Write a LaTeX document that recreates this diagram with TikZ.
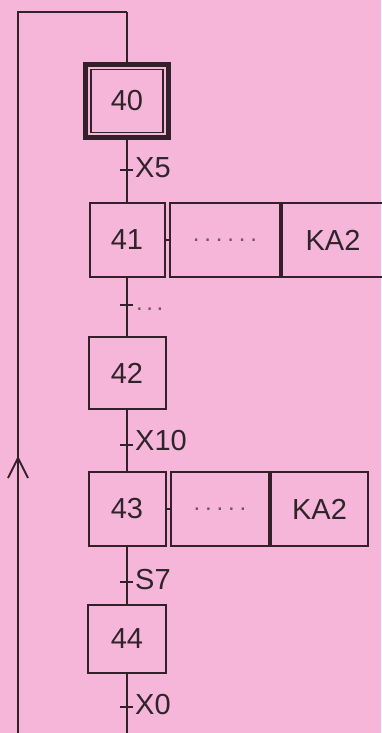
\documentclass[tikz,border=0pt]{standalone}
\usepackage{fontspec}
\setmainfont{Liberation Sans}
\definecolor{bg}{RGB}{245,182,217}
\definecolor{ink}{RGB}{52,32,42}
\definecolor{txt}{RGB}{48,36,42}
\definecolor{dotc}{RGB}{110,85,100}
\newcommand{\bigf}{\fontsize{29}{34}\selectfont}
\newcommand{\dotf}{\fontsize{24}{28}\selectfont}
\begin{document}
\begin{tikzpicture}[x=1pt,y=-1pt]
\fill[bg] (0,0) rectangle (381,733);
\useasboundingbox (0,0) rectangle (381,733);
\tikzset{
  stepbox/.style={draw=ink, line width=2pt, inner sep=0pt, text=txt, font=\bigf},
  actbox/.style={draw=ink, line width=2pt, inner sep=0pt, text=txt, font=\bigf},
  wire/.style={draw=ink, line width=2pt},
  tick/.style={draw=ink, line width=1.8pt},
  tlabel/.style={anchor=west, inner sep=0pt, text=txt, font=\bigf},
  dotlabel/.style={inner sep=0pt, text=dotc, font=\dotf}
}
% initial step 40
\node[draw=ink, line width=5pt, minimum width=83.5pt, minimum height=73pt, inner sep=0pt] (s40o) at (127,101) {};
\node[stepbox, line width=1.5pt, minimum width=72pt, minimum height=63pt] (s40) at (127,101) {40};
% steps
\node[stepbox, minimum width=75pt, minimum height=74pt] (s41) at (127,240) {41};
\node[stepbox, minimum width=77pt, minimum height=72pt] (s42) at (127,373) {42};
\node[stepbox, minimum width=77pt, minimum height=74pt] (s43) at (127,509) {43};
\node[stepbox, minimum width=78pt, minimum height=68pt] (s44) at (127,639) {44};
% actions
\node[actbox, minimum width=110pt, minimum height=74pt] (a41d) at (225,240) {};
\node[dotlabel] at (a41d) {\addfontfeature{LetterSpace=20}......};
\node[actbox, minimum width=102pt, minimum height=74pt, anchor=west] (a41k) at (a41d.east) {KA2};
\node[actbox, minimum width=98pt, minimum height=74pt] (a43d) at (220,509) {};
\node[dotlabel] at (a43d) {\addfontfeature{LetterSpace=20}.....};
\node[actbox, minimum width=97pt, minimum height=74pt, anchor=west] (a43k) at (a43d.east) {KA2};
\draw[wire] (s41.east) -- (a41d.west);
\draw[wire] (s43.east) -- (a43d.west);
% transitions
\coordinate (t40) at (127,170);
\coordinate (t41) at (127,305);
\coordinate (t42) at (127,445);
\coordinate (t43) at (127,582);
\coordinate (t44) at (127,707);
\foreach \t in {t40,t41,t42,t43,t44} {\draw[tick] ([xshift=-7pt]\t) -- ([xshift=6pt]\t);}
\node[tlabel] (l40) at (135,168) {X5};
\node[dotlabel, anchor=west] (l41) at (136,309) {\addfontfeature{LetterSpace=15}...};
\node[tlabel] (l42) at (135,441) {X10};
\node[tlabel] (l43) at (135,580) {S7};
\node[tlabel] (l44) at (135,705) {X0};
% main line
\coordinate (top) at (127,12);
\coordinate (lt) at (18,12);
\coordinate (lb) at (18,740);
\coordinate (mb) at (127,740);
\coordinate (tip) at (18,458);
\draw[wire] (top) -- (s40o.north);
\draw[wire] (s40o.south) -- (s41.north);
\draw[wire] (s41.south) -- (s42.north);
\draw[wire] (s42.south) -- (s43.north);
\draw[wire] (s43.south) -- (s44.north);
\draw[wire] (s44.south) -- (mb);
% return line
\draw[wire] (lb) -- (lt) -- (top);
\draw[wire, line join=miter] ([shift={(-10,20)}]tip) -- (tip) -- ([shift={(10,20)}]tip);
\end{tikzpicture}
\end{document}
